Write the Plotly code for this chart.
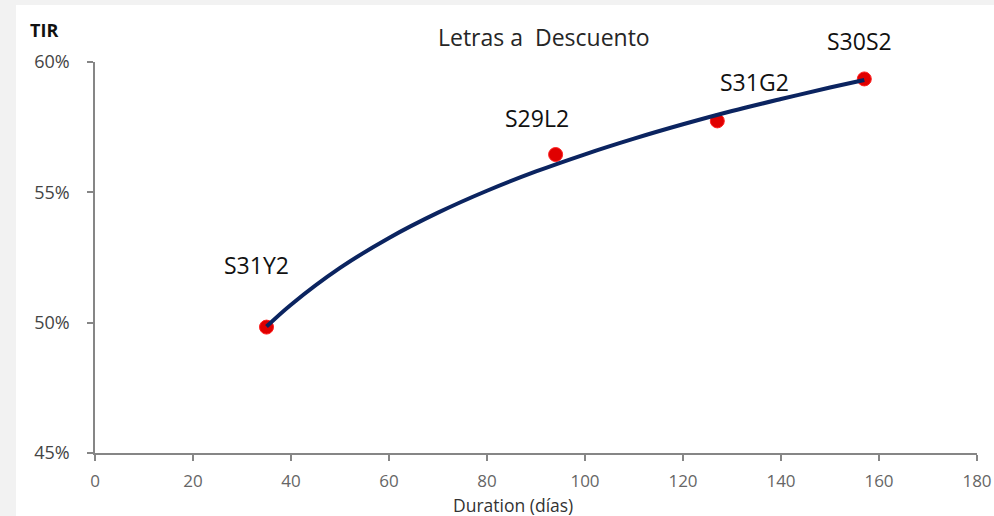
import plotly.graph_objects as go

# Data
names = ["S31Y2", "S29L2", "S31G2", "S30S2"]
duration = [35, 94, 127, 157]
tir = [49.83, 56.45, 57.74, 59.35]

# Trend line values
trend_x = [35, 40, 50, 60, 70, 80, 90, 100, 110, 120, 130, 140, 150, 157]
trend_y = [49.85, 50.69, 52.10, 53.25, 54.22, 55.06, 55.80, 56.46, 57.06, 57.61, 58.12, 58.58, 59.02, 59.31]

x_ticks = [0, 20, 40, 60, 80, 100, 120, 140, 160, 180]
y_ticks = [45, 50, 55, 60]
y_tick_labels = ["45%", "50%", "55%", "60%"]

label_shift = {"S31Y2": (-10, 62), "S29L2": (-19, 37), "S31G2": (37, 39), "S30S2": (-5, 38)}

font_main = "Open Sans"

fig = go.Figure()
fig.add_trace(go.Scatter(x=duration, y=tir, mode="markers",
                         marker=dict(color="#e00000", size=14,
                                     line=dict(color="#ff2020", width=1)),
                         showlegend=False, hoverinfo="x+y"))
fig.add_trace(go.Scatter(x=trend_x, y=trend_y, mode="lines", line_shape="spline",
                         line=dict(color="#0b2460", width=4),
                         showlegend=False, hoverinfo="skip"))

for n, xv, yv in zip(names, duration, tir):
    dx, dy = label_shift[n]
    fig.add_annotation(x=xv, y=yv, text=n, showarrow=False, xshift=dx, yshift=dy,
                       xanchor="center", yanchor="middle",
                       font=dict(family=font_main, size=23, color="#111111"))

fig.add_annotation(xref="paper", yref="paper", x=(44 - 95) / 882, y=(453 - 30) / 391,
                   text="<b>TIR</b>", showarrow=False, xanchor="center", yanchor="middle",
                   font=dict(family=font_main, size=18, color="#111111"))
fig.add_annotation(xref="paper", yref="paper", x=(544 - 95) / 882, y=(453 - 37) / 391,
                   text="Letras a  Descuento", showarrow=False, xanchor="center", yanchor="middle",
                   font=dict(family=font_main, size=23, color="#262626"))
fig.add_annotation(xref="paper", yref="paper", x=(513 - 95) / 882, y=(453 - 505) / 391,
                   text="Duration (días)", showarrow=False, xanchor="center", yanchor="middle",
                   font=dict(family=font_main, size=17.5, color="#333333"))

fig.add_shape(type="rect", xref="paper", yref="paper", x0=-0.0896, x1=1.1, y0=-0.3, y1=1.1458,
              fillcolor="white", line=dict(width=0), layer="below")

fig.update_layout(
    width=994, height=516,
    margin=dict(l=95, r=17, t=62, b=63, autoexpand=False),
    paper_bgcolor="#f2f2f2", plot_bgcolor="white",
    showlegend=False,
)
fig.update_xaxes(range=[0, 180], tickvals=x_ticks, showgrid=False, zeroline=False,
                 automargin=False,
                 showline=True, linecolor="#868686", linewidth=1.5,
                 ticks="outside", ticklen=6, tickcolor="#868686", tickwidth=1.5,
                 ticklabelstandoff=6,
                 tickfont=dict(family=font_main, size=17, color="#666666"))
fig.update_yaxes(range=[45, 60], tickvals=y_ticks, ticktext=y_tick_labels, showgrid=False,
                 automargin=False,
                 zeroline=False, showline=True, linecolor="#868686", linewidth=1.5,
                 ticks="outside", ticklen=6, tickcolor="#868686", tickwidth=1.5,
                 ticklabelstandoff=14,
                 tickfont=dict(family=font_main, size=18, color="#444444"))

fig.write_html("out.html", config={"displayModeBar": False},
               post_script="document.body.style.margin='0';")
